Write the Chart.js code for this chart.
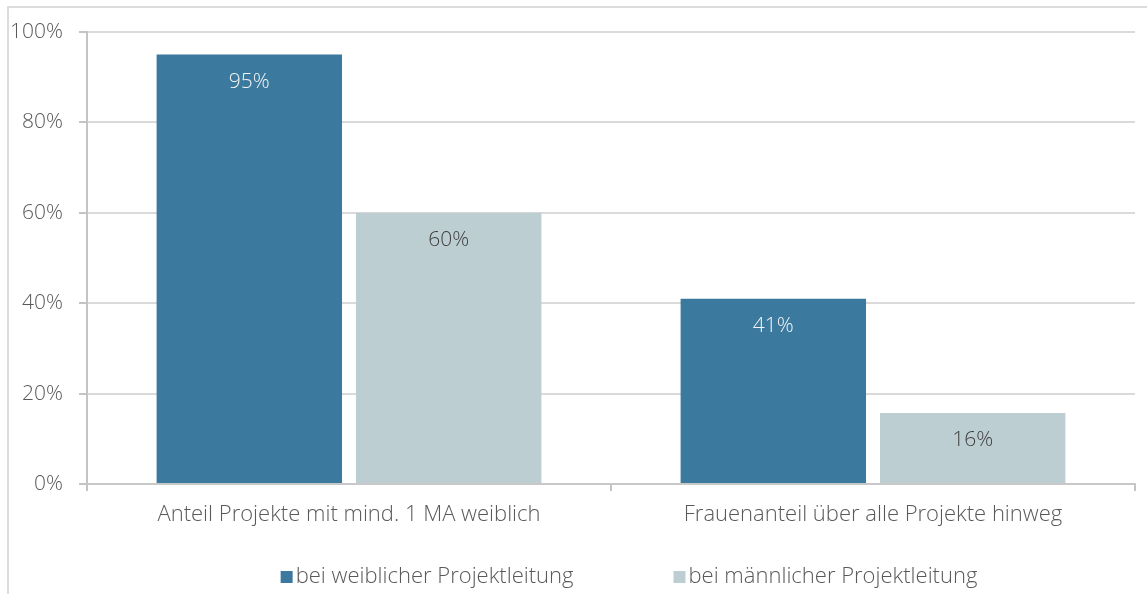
<!DOCTYPE html>
<html>
<head>
<meta charset="utf-8">
<script src="https://cdn.jsdelivr.net/npm/chart.js@4/dist/chart.umd.min.js"></script>
<style>
  html, body { margin: 0; padding: 0; background: #fff; }
  #wrap { position: relative; width: 1147px; height: 594px; overflow: hidden; }
  #frame { position: absolute; left: 7px; top: 6px; width: 1200px; height: 700px;
           border-top: 2px solid #dcdcdc; border-left: 2px solid #dcdcdc; }
  canvas { position: absolute; left: 0; top: 0; }
</style>
</head>
<body>
<div id="wrap">
  <div id="frame"></div>
  <canvas id="c" width="1147" height="594"></canvas>
</div>
<script>
const categories = ["Anteil Projekte mit mind. 1 MA weiblich", "Frauenanteil über alle Projekte hinweg"];
const seriesNames = ["bei weiblicher Projektleitung", "bei männlicher Projektleitung"];
const femaleLead = [95, 41];
const maleLead = [60, 15.7];
const valueLabels = [["95%", "41%"], ["60%", "16%"]];
const yTicks = [0, 20, 40, 60, 80, 100];

const colors = ["#3b7a9e", "#bdced3"];
const labelColors = ["#f4f4f4", "#404040"];
const FONT = "'Open Sans', 'Segoe UI', sans-serif";

const barLabels = {
  id: 'barLabels',
  afterDatasetsDraw(chart) {
    const ctx = chart.ctx;
    ctx.save();
    ctx.font = "300 21px " + FONT;
    ctx.textAlign = 'center';
    ctx.textBaseline = 'middle';
    chart.data.datasets.forEach((ds, di) => {
      chart.getDatasetMeta(di).data.forEach((el, i) => {
        ctx.fillStyle = labelColors[di];
        ctx.fillText(valueLabels[di][i], el.x, el.y + 27);
      });
    });
    ctx.restore();
  }
};

const customLegend = {
  id: 'customLegend',
  afterDraw(chart) {
    const ctx = chart.ctx;
    ctx.save();
    ctx.font = "300 22px " + FONT;
    ctx.textBaseline = 'middle';
    ctx.textAlign = 'left';
    const box = 12, gapText = 3, gapItem = 100;
    const widths = seriesNames.map(n => box + gapText + ctx.measureText(n).width);
    const total = widths.reduce((a, b) => a + b, 0) + gapItem;
    let x = 629 - total / 2;
    const y = 577;
    seriesNames.forEach((n, i) => {
      ctx.fillStyle = colors[i];
      ctx.fillRect(x, y - box / 2, box, box);
      ctx.fillStyle = '#595959';
      ctx.fillText(n, x + box + gapText, y);
      x += widths[i] + gapItem;
    });
    ctx.restore();
  }
};

new Chart(document.getElementById('c'), {
  type: 'bar',
  data: {
    labels: categories,
    datasets: [
      { label: seriesNames[0], data: femaleLead, backgroundColor: colors[0] },
      { label: seriesNames[1], data: maleLead, backgroundColor: colors[1] }
    ]
  },
  options: {
    responsive: false,
    animation: false,
    devicePixelRatio: 1,
    categoryPercentage: 0.761,
    barPercentage: 0.93,
    layout: { padding: { top: 32, right: 12, left: 0, bottom: 0 } },
    plugins: {
      legend: { display: false },
      title: { display: false },
      tooltip: { enabled: false }
    },
    scales: {
      x: {
        afterFit(scale) { scale.height = 110; },
        grid: { drawOnChartArea: false, drawTicks: true, tickLength: 7, offset: true, color: '#c4c4c4', tickColor: '#c4c4c4', lineWidth: 2 },
        border: { color: '#c8c8c8', width: 2 },
        ticks: { color: '#595959', font: { family: FONT, size: 22, weight: 300 }, padding: 11, maxRotation: 0 }
      },
      y: {
        min: 0, max: 100,
        afterFit(scale) { scale.width = 87; },
        afterBuildTicks(scale) { scale.ticks = yTicks.map(v => ({ value: v })); },
        grid: { color: '#dadada', tickColor: '#c4c4c4', lineWidth: 2, tickLength: 8 },
        border: { color: '#c4c4c4', width: 2 },
        ticks: { color: '#595959', font: { family: FONT, size: 21, weight: 300 }, padding: 16,
                 callback: v => v + '%' }
      }
    }
  },
  plugins: [barLabels, customLegend]
});
</script>
</body>
</html>
